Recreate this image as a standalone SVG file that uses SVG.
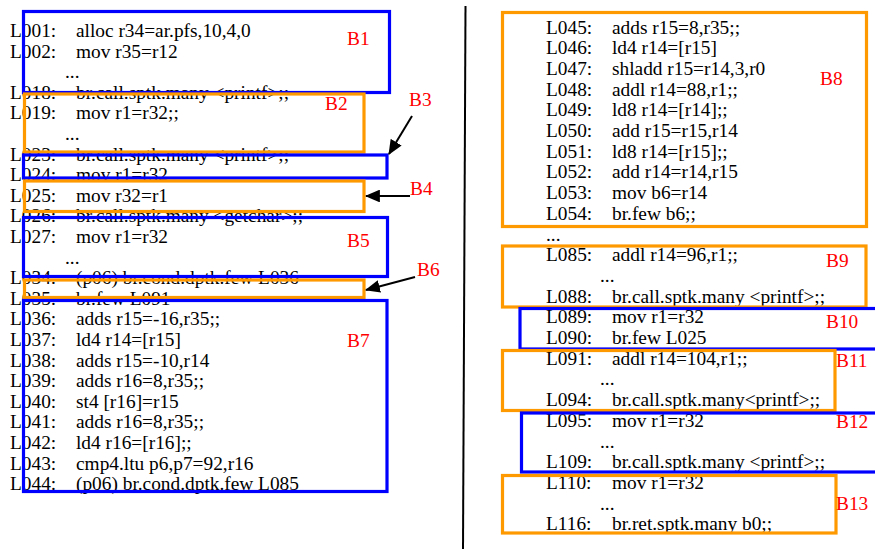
<svg xmlns="http://www.w3.org/2000/svg" width="875" height="549" viewBox="0 0 875 549">
<style>
text{font-family:"Liberation Serif","Times New Roman",serif;font-size:19.35px;fill:#000}
.lbl{fill:#ff0000}
.b{fill:none;stroke:#0000ff;stroke-width:3.2}
.o{fill:none;stroke:#ff9900;stroke-width:3.2}
.arr{stroke:#000;stroke-width:2;fill:none;marker-end:url(#ah)}
</style>
<defs>
<marker id="ah" viewBox="0 0 14 12" refX="13" refY="6" markerWidth="7.5" markerHeight="6.4" markerUnits="strokeWidth" orient="auto">
<path d="M0,0 L14,6 L0,12 z" fill="#000"/>
</marker>
</defs>
<rect width="875" height="549" fill="#fff"/>
<line x1="465.5" y1="6" x2="463" y2="549" stroke="#000" stroke-width="2"/>
<g id="code-left">
<text x="10" y="37">L001:</text><text x="76" y="37">alloc r34=ar.pfs,10,4,0</text>
<text x="10" y="57.6">L002:</text><text x="76" y="57.6">mov r35=r12</text>
<text x="65" y="78.2">...</text>
<text x="10" y="98.8">L018:</text><text x="76" y="98.8">br.call.sptk.many &lt;printf&gt;;;</text>
<text x="10" y="119.4">L019:</text><text x="76" y="119.4">mov r1=r32;;</text>
<text x="65" y="140">...</text>
<text x="10" y="160.6">L023:</text><text x="76" y="160.6">br.call.sptk.many &lt;printf&gt;;;</text>
<text x="10" y="181.2">L024:</text><text x="76" y="181.2">mov r1=r32</text>
<text x="10" y="201.8">L025:</text><text x="76" y="201.8">mov r32=r1</text>
<text x="10" y="222.4">L026:</text><text x="76" y="222.4">br.call.sptk.many &lt;getchar&gt;;;</text>
<text x="10" y="243">L027:</text><text x="76" y="243">mov r1=r32</text>
<text x="65" y="263.6">...</text>
<text x="10" y="284.2">L034:</text><text x="76" y="284.2">(p06) br.cond.dptk.few L036</text>
<text x="10" y="304.8">L035:</text><text x="76" y="304.8">br.few L091</text>
<text x="10" y="325.4">L036:</text><text x="76" y="325.4">adds r15=-16,r35;;</text>
<text x="10" y="346">L037:</text><text x="76" y="346">ld4 r14=[r15]</text>
<text x="10" y="366.6">L038:</text><text x="76" y="366.6">adds r15=-10,r14</text>
<text x="10" y="387.2">L039:</text><text x="76" y="387.2">adds r16=8,r35;;</text>
<text x="10" y="407.8">L040:</text><text x="76" y="407.8">st4 [r16]=r15</text>
<text x="10" y="428.4">L041:</text><text x="76" y="428.4">adds r16=8,r35;;</text>
<text x="10" y="449">L042:</text><text x="76" y="449">ld4 r16=[r16];;</text>
<text x="10" y="469.6">L043:</text><text x="76" y="469.6">cmp4.ltu p6,p7=92,r16</text>
<text x="10" y="490.2">L044:</text><text x="76" y="490.2">(p06) br.cond.dptk.few L085</text>
</g>
<g id="code-right">
<text x="546" y="33.5">L045:</text><text x="612" y="33.5">adds r15=8,r35;;</text>
<text x="546" y="54.2">L046:</text><text x="612" y="54.2">ld4 r14=[r15]</text>
<text x="546" y="74.9">L047:</text><text x="612" y="74.9">shladd r15=r14,3,r0</text>
<text x="546" y="95.6">L048:</text><text x="612" y="95.6">addl r14=88,r1;;</text>
<text x="546" y="116.3">L049:</text><text x="612" y="116.3">ld8 r14=[r14];;</text>
<text x="546" y="137">L050:</text><text x="612" y="137">add r15=r15,r14</text>
<text x="546" y="157.7">L051:</text><text x="612" y="157.7">ld8 r14=[r15];;</text>
<text x="546" y="178.4">L052:</text><text x="612" y="178.4">add r14=r14,r15</text>
<text x="546" y="199.1">L053:</text><text x="612" y="199.1">mov b6=r14</text>
<text x="546" y="219.8">L054:</text><text x="612" y="219.8">br.few b6;;</text>
<text x="546" y="240.5">...</text>
<text x="546" y="261.2">L085:</text><text x="612" y="261.2">addl r14=96,r1;;</text>
<text x="600" y="281.9">...</text>
<text x="546" y="302.6">L088:</text><text x="612" y="302.6">br.call.sptk.many &lt;printf&gt;;;</text>
<text x="546" y="323.3">L089:</text><text x="612" y="323.3">mov r1=r32</text>
<text x="546" y="344">L090:</text><text x="612" y="344">br.few L025</text>
<text x="546" y="364.7">L091:</text><text x="612" y="364.7">addl r14=104,r1;;</text>
<text x="600" y="385.4">...</text>
<text x="546" y="406.1">L094:</text><text x="612" y="406.1">br.call.sptk.many&lt;printf&gt;;;</text>
<text x="546" y="426.8">L095:</text><text x="612" y="426.8">mov r1=r32</text>
<text x="600" y="447.5">...</text>
<text x="546" y="468.2">L109:</text><text x="612" y="468.2">br.call.sptk.many &lt;printf&gt;;;</text>
<text x="546" y="488.9">L110:</text><text x="612" y="488.9">mov r1=r32</text>
<text x="600" y="509.6">...</text>
<text x="546" y="530.3">L116:</text><text x="612" y="530.3">br.ret.sptk.many b0;;</text>
</g>
<g id="B1"><rect class="b" x="23.5" y="11.5" width="366" height="81"/><text class="lbl" x="347" y="45">B1</text></g>
<g id="B2"><rect class="o" x="24.5" y="94" width="339.5" height="58"/><text class="lbl" x="325" y="110">B2</text></g>
<g id="B3"><rect class="b" x="23.5" y="155" width="363.5" height="23"/><text class="lbl" x="409" y="106">B3</text></g>
<g id="B4"><rect class="o" x="24.5" y="181" width="339.5" height="30.5"/><text class="lbl" x="410" y="195">B4</text></g>
<g id="B5"><rect class="b" x="23.5" y="217.5" width="364" height="59"/><text class="lbl" x="347" y="247">B5</text></g>
<g id="B6"><rect class="o" x="24.5" y="280" width="339.5" height="17.5"/><text class="lbl" x="417" y="276">B6</text></g>
<g id="B7"><rect class="b" x="23.5" y="300.5" width="363.5" height="191"/><text class="lbl" x="347" y="347">B7</text></g>
<g id="B8"><rect class="o" x="502.5" y="12.5" width="364" height="214"/><text class="lbl" x="820" y="85">B8</text></g>
<g id="B9"><rect class="o" x="502.5" y="246" width="363.5" height="61"/><text class="lbl" x="826" y="267">B9</text></g>
<g id="B10"><rect class="b" x="520" y="308.5" width="360" height="40.5"/><text class="lbl" x="826" y="328">B10</text></g>
<g id="B11"><rect class="o" x="502.5" y="350.5" width="332.5" height="60"/><text class="lbl" x="836" y="367">B11</text></g>
<g id="B12"><rect class="b" x="521.5" y="413" width="360" height="59"/><text class="lbl" x="836" y="428">B12</text></g>
<g id="B13"><rect class="o" x="502.5" y="475.5" width="333.5" height="57.5"/><text class="lbl" x="836" y="510">B13</text></g>
<g id="connectors">
<line class="arr" x1="412" y1="116" x2="389" y2="154"/>
<line class="arr" x1="410" y1="196" x2="366" y2="196"/>
<line class="arr" x1="415" y1="277" x2="366" y2="290"/>
</g>
</svg>
